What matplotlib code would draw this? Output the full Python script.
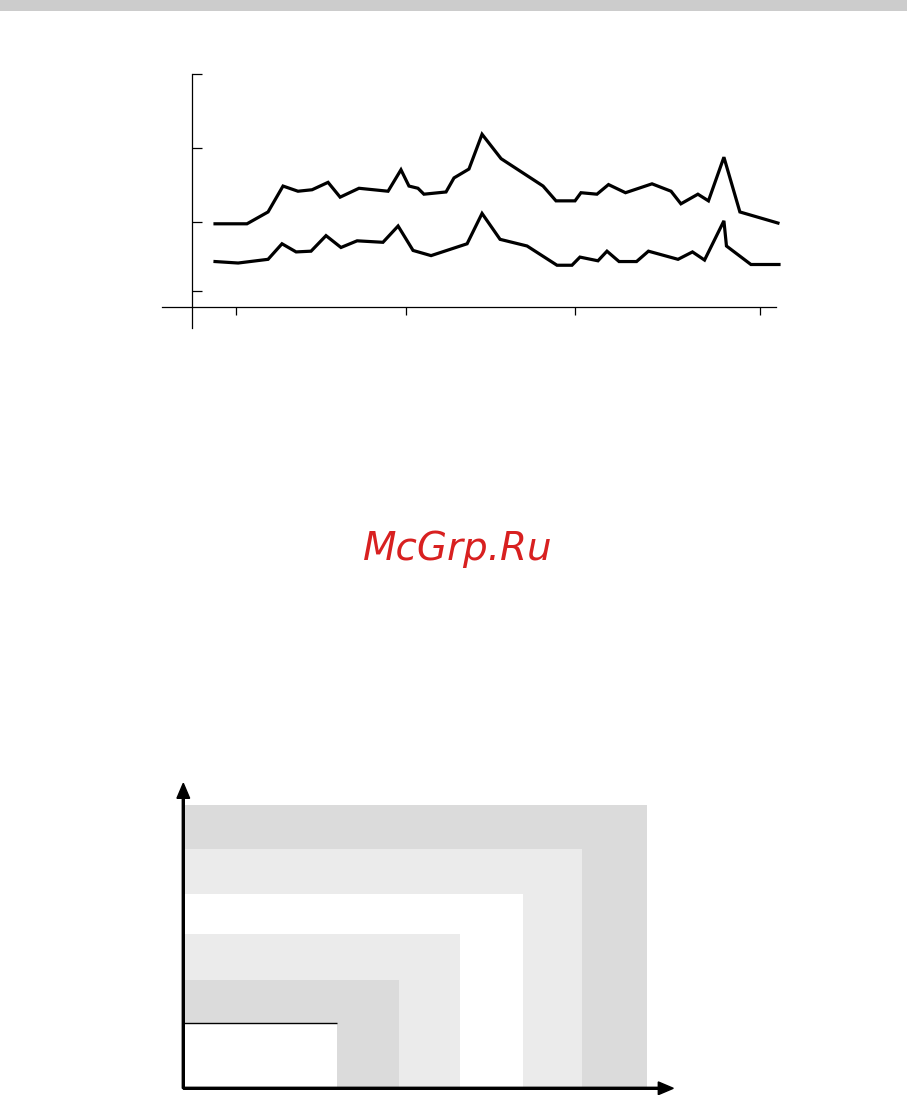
import matplotlib
matplotlib.use("Agg")
import matplotlib.pyplot as plt
from matplotlib.patches import Rectangle

# ---------------- data: line chart ----------------
upper_x = [-1.22, 0.66, 1.90, 2.78, 3.66, 4.49, 5.43, 6.14, 7.25, 8.96, 9.72, 10.19,
           10.72, 11.07, 12.37, 12.84, 13.72, 14.49, 15.61, 18.08, 18.84, 19.96,
           20.31, 21.25, 21.93, 22.93, 24.49, 25.61, 26.19, 27.19, 27.81, 28.72,
           29.66, 31.90]
upper_y = [0.98, 0.98, 1.14, 1.49, 1.42, 1.44, 1.54, 1.34, 1.46, 1.42, 1.71, 1.49,
           1.46, 1.38, 1.41, 1.60, 1.72, 2.19, 1.86, 1.49, 1.29, 1.29,
           1.40, 1.38, 1.51, 1.40, 1.52, 1.42, 1.25, 1.38, 1.29, 1.88,
           1.14, 0.99]

lower_x = [-1.22, 0.14, 1.90, 2.72, 3.55, 4.43, 5.31, 6.19, 7.14, 8.66, 9.55, 10.43,
           11.49, 13.61, 14.49, 15.55, 17.14, 18.90, 19.78, 20.25, 21.31, 21.84,
           22.55, 23.58, 24.28, 26.02, 26.87, 27.58, 28.72, 28.87, 30.31, 31.96]
lower_y = [0.47, 0.45, 0.50, 0.71, 0.60, 0.61, 0.82, 0.66, 0.75, 0.73, 0.95, 0.62,
           0.55, 0.71, 1.12, 0.77, 0.68, 0.42, 0.42, 0.53, 0.48, 0.61,
           0.47, 0.47, 0.61, 0.50, 0.60, 0.49, 1.02, 0.68, 0.43, 0.43]

x_ticks = [0, 10.04, 19.98, 30.86]
y_ticks = [0.07, 1, 2, 3]

# ---------------- data: nested regions diagram ----------------
region_w = [46.4, 39.84, 33.94, 27.67, 21.57, 15.34]
region_h = [28.33, 23.93, 19.43, 15.40, 10.83, 6.50]
region_colors = ["#dbdbdb", "#ebebeb", "#ffffff", "#ebebeb", "#dbdbdb", "#ffffff"]

W, H = 907, 1095
fig = plt.figure(figsize=(W / 100, H / 100), dpi=100)
fig.patch.set_facecolor("white")

# top grey band
fig.patches.append(Rectangle((0, 1 - 11 / H), 1, 11 / H, transform=fig.transFigure,
                             facecolor="#cccccc", edgecolor="none"))

# ---------------- line chart ----------------
ax = fig.add_axes([162 / W, 1 - 330 / H, 618 / W, 256 / H])
ax.set_xlim(-4.34, 32.02)
ax.set_ylim(-0.455, 3.004)
ax.patch.set_alpha(0)
ax.plot(upper_x, upper_y, color="black", lw=2.3, solid_joinstyle="miter", clip_on=False)
ax.plot(lower_x, lower_y, color="black", lw=2.3, solid_joinstyle="miter", clip_on=False)
for s in ["top", "right"]:
    ax.spines[s].set_visible(False)
ax.spines["left"].set_position(("data", -2.55))
ax.spines["bottom"].set_position(("data", -0.14))
ax.spines["left"].set_bounds(-0.43, 3.0)
ax.spines["bottom"].set_bounds(-4.34, 31.76)
ax.spines["left"].set_linewidth(0.9)
ax.spines["bottom"].set_linewidth(0.9)
ax.set_xticks(x_ticks)
ax.set_yticks(y_ticks)
ax.tick_params(axis="y", direction="in", length=7.4, width=0.9, labelleft=False)
ax.tick_params(axis="x", direction="out", length=6.0, width=0.9, labelbottom=False)

# ---------------- watermark ----------------
fig.text(458 / W, 1 - 549 / H, "McGrp.Ru", color="#d82020", fontsize=28,
         style="italic", ha="center", va="center", family="DejaVu Sans")

# ---------------- nested regions diagram ----------------
ax2 = fig.add_axes([170 / W, 0, 510 / W, 320 / H])
ax2.set_xlim(-1.33, 49.67)
ax2.set_ylim(-0.67, 31.33)
ax2.axis("off")
for w, h, c in zip(region_w, region_h, region_colors):
    ax2.add_patch(Rectangle((0, 0), w, h, facecolor=c, edgecolor="none"))
ax2.hlines(region_h[-1], 0, region_w[-1], color="black", lw=1.0)
ax2.arrow(0, 0, 0, 30.5, width=0.2, head_width=1.27, head_length=1.5,
          length_includes_head=True, color="black")
ax2.arrow(0, 0, 49.0, 0, width=0.2, head_width=1.27, head_length=1.5,
          length_includes_head=True, color="black")

fig.savefig("out.png", dpi=100)
